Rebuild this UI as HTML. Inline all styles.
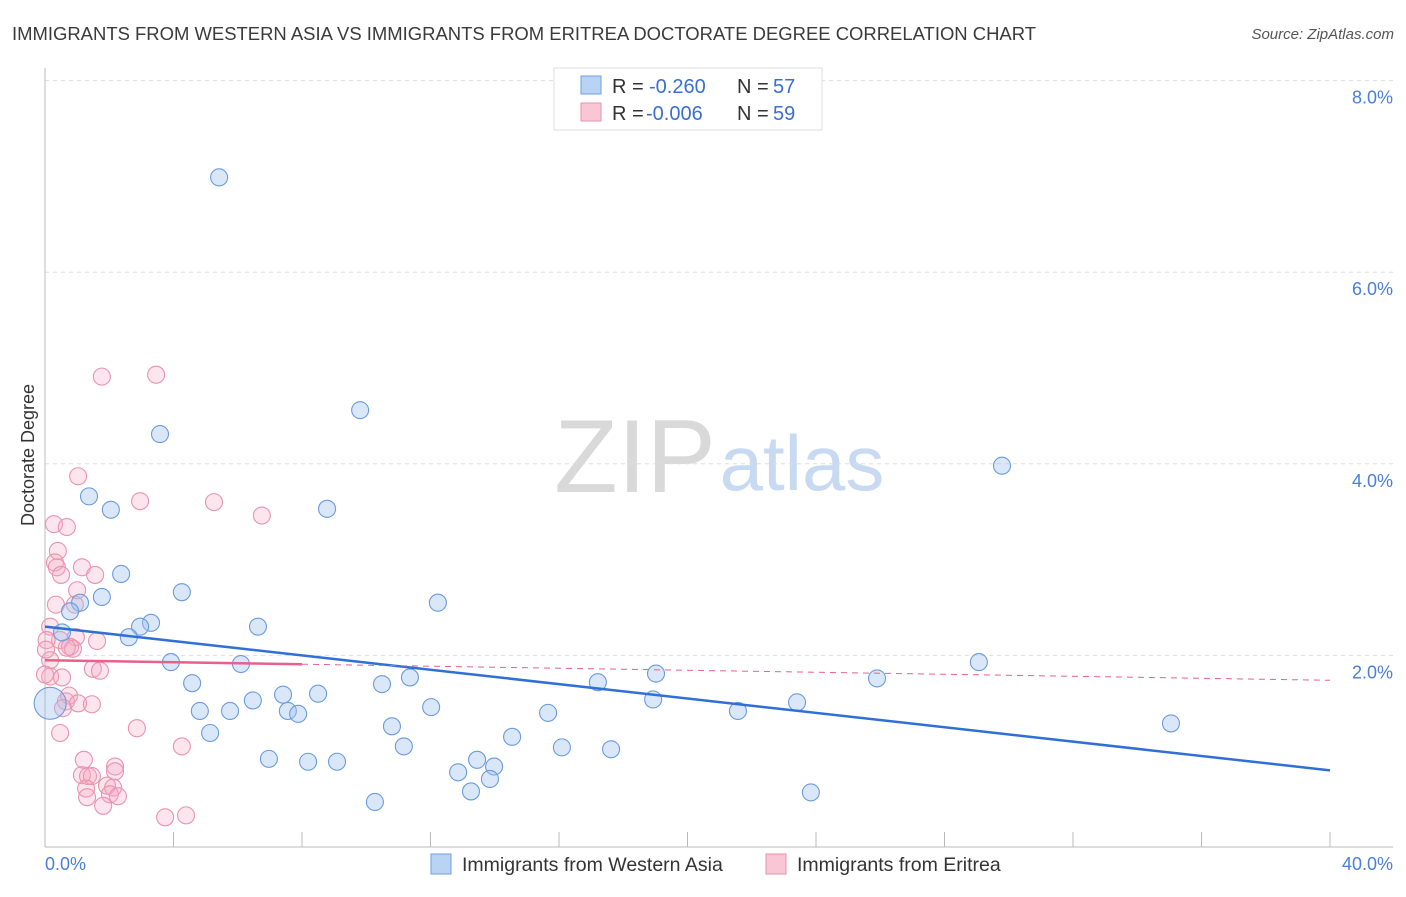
<!DOCTYPE html>
<html><head><meta charset="utf-8"><style>
body{margin:0;background:#fff;font-family:"Liberation Sans",sans-serif}
svg text{font-family:"Liberation Sans",sans-serif}
</style></head><body>
<svg width="1406" height="892" xmlns="http://www.w3.org/2000/svg">
<text x="12" y="40" font-size="18.6" fill="#3a3a3a" textLength="1024" lengthAdjust="spacingAndGlyphs">IMMIGRANTS FROM WESTERN ASIA VS IMMIGRANTS FROM ERITREA DOCTORATE DEGREE CORRELATION CHART</text>
<text x="1394" y="39" font-size="15" fill="#555" font-style="italic" text-anchor="end">Source: ZipAtlas.com</text>
<g>
<text x="635" y="492" font-size="104" fill="#d9d9d9" font-family="Liberation Serif" text-anchor="middle">ZIP</text>
<text x="802" y="490" font-size="78" fill="#c8daf2" text-anchor="middle">atlas</text>
</g>
<g id="grid"></g>
<g id="axes"></g>
<g id="pts"></g>
<g id="trend"></g>
<text transform="translate(34,455) rotate(-90)" font-size="18" fill="#333" text-anchor="middle">Doctorate Degree</text>
<g>
<rect x="554" y="68" width="268" height="62" fill="#fff" stroke="#ddd"/>
<rect x="581" y="76" width="20" height="18" fill="#b9d3f4" stroke="#6f9fdf"/>
<rect x="581" y="103" width="20" height="18" fill="#f9c6d6" stroke="#e890aa"/>
<text x="612" y="93" font-size="20" fill="#333">R =</text>
<text x="649" y="93" font-size="20" fill="#3a6fd0">-0.260</text>
<text x="737" y="93" font-size="20" fill="#333">N =</text>
<text x="773" y="93" font-size="20" fill="#3a6fd0">57</text>
<text x="612" y="120" font-size="20" fill="#333">R =</text>
<text x="646" y="120" font-size="20" fill="#3a6fd0">-0.006</text>
<text x="737" y="120" font-size="20" fill="#333">N =</text>
<text x="773" y="120" font-size="20" fill="#3a6fd0">59</text>
</g>
<g>
<rect x="431" y="854" width="20" height="20" fill="#b9d3f4" stroke="#6f9fdf"/>
<text x="462" y="871" font-size="19.5" fill="#333">Immigrants from Western Asia</text>
<rect x="766" y="854" width="20" height="20" fill="#f9c6d6" stroke="#e890aa"/>
<text x="797" y="871" font-size="19.5" fill="#333">Immigrants from Eritrea</text>
</g>
</svg>
<script>
const yTicks=[2,4,6,8];
const yTickLabels=["2.0%","4.0%","6.0%","8.0%"];
const xTickLabels=["0.0%","40.0%"];
const blueX=[5.42,9.81,3.58,1.37,2.05,8.78,29.79,2.37,4.26,1.77,1.09,0.78,12.23,3.30,2.96,6.63,2.61,0.53,3.92,6.10,29.07,19.02,4.58,10.49,11.36,17.21,25.90,0.16,7.41,8.50,6.47,4.82,5.76,7.56,7.88,12.02,15.66,18.93,21.57,23.41,10.80,35.05,5.14,14.54,11.17,16.09,17.62,6.97,8.19,9.09,13.45,12.86,13.98,13.85,13.26,10.27,23.84];
const blueY=[6.99,4.56,4.31,3.66,3.52,3.53,3.98,2.85,2.66,2.61,2.55,2.46,2.55,2.34,2.30,2.30,2.19,2.24,1.93,1.91,1.93,1.81,1.71,1.70,1.77,1.72,1.76,1.50,1.59,1.60,1.53,1.42,1.42,1.42,1.39,1.46,1.40,1.54,1.42,1.51,1.26,1.29,1.19,1.15,1.05,1.04,1.02,0.92,0.89,0.89,0.91,0.78,0.84,0.71,0.58,0.47,0.57];
const pinkX=[1.77,3.46,1.03,2.96,5.26,6.75,0.28,0.68,0.40,0.31,0.37,1.15,0.50,1.56,1.00,0.93,0.16,0.96,0.47,0.78,0.87,0.68,0.16,0.16,0.53,1.49,1.71,0.75,0.65,1.03,1.46,0.56,0.47,2.86,4.26,1.21,1.15,1.34,1.46,2.18,2.18,1.28,1.93,2.12,2.02,2.27,1.31,1.81,3.74,4.39,0.05,0.0,1.62,0.34,0.03];
const pinkY=[4.91,4.93,3.87,3.61,3.60,3.46,3.37,3.34,3.09,2.97,2.92,2.92,2.84,2.84,2.68,2.53,2.30,2.19,2.16,2.09,2.07,2.08,1.95,1.78,1.77,1.86,1.84,1.58,1.52,1.50,1.49,1.45,1.19,1.24,1.05,0.91,0.75,0.74,0.74,0.84,0.79,0.61,0.64,0.62,0.55,0.53,0.52,0.43,0.31,0.33,2.16,1.80,2.15,2.53,2.06];
const blueTrend=[2.30,0.80];
const pinkTrend=[1.95,1.74];
const pinkSolidEnd=8;
const NS="http://www.w3.org/2000/svg";
const sx=v=>45+v/40*1285, sy=v=>847-v*95.8;
function mk(t,a,p){const e=document.createElementNS(NS,t);for(const k in a)e.setAttribute(k,a[k]);p.appendChild(e);return e;}
const grid=document.getElementById('grid'),axes=document.getElementById('axes'),pts=document.getElementById('pts'),tr=document.getElementById('trend');
yTicks.forEach((t,i)=>{
 const l=mk('line',{x1:45,x2:1393,y1:sy(t),y2:sy(t),stroke:'#ddd','stroke-dasharray':'4,4'},grid);
 
 
 const tx=mk('text',{x:1393,y:sy(t)+23,'font-size':18,fill:'#4a7fd8','text-anchor':'end'},axes);
 tx.textContent=yTickLabels[i];
 
 
});
const ya=mk('line',{x1:45,x2:45,y1:68,y2:847,stroke:'#bbb'},axes);


const xa=mk('line',{x1:45,x2:1393,y1:847,y2:847,stroke:'#bbb'},axes);


for(let i=0;i<=10;i++){
 const t=mk('line',{x1:sx(i*4),x2:sx(i*4),y1:832,y2:847,stroke:'#bbb'},axes);
 
 
}
[[0,'start',45],[40,'end',1393]].forEach((d,i)=>{
 const t=mk('text',{x:d[2],y:870,'font-size':18,fill:'#4a7fd8','text-anchor':d[1]},axes);
 t.textContent=xTickLabels[i];
 
 
});
pinkX.forEach((x,i)=>{
 const c=mk('circle',{cx:sx(x),cy:sy(pinkY[i]),r:8.5,fill:'rgba(245,170,195,0.3)',stroke:'#e993ad','stroke-width':1.1},pts);
 
 
});
blueX.forEach((x,i)=>{
 const c=mk('circle',{cx:sx(x),cy:sy(blueY[i]),r:i==27?16:8.5,fill:'rgba(160,196,240,0.4)',stroke:'#6a9bde','stroke-width':1.1},pts);
 
 
});
const bl=mk('line',{x1:sx(0),y1:sy(blueTrend[0]),x2:sx(40),y2:sy(blueTrend[1]),stroke:'#2f6fd6','stroke-width':2.5},tr);


const pm=pinkTrend[0]+(pinkTrend[1]-pinkTrend[0])*pinkSolidEnd/40;
const ps=mk('line',{x1:sx(0),y1:sy(pinkTrend[0]),x2:sx(pinkSolidEnd),y2:sy(pm),stroke:'#e8608c','stroke-width':2.5},tr);


const pd=mk('line',{x1:sx(pinkSolidEnd),y1:sy(pm),x2:sx(40),y2:sy(pinkTrend[1]),stroke:'#e8608c','stroke-width':1,'stroke-dasharray':'6,5'},tr);


</script>
</body></html>
